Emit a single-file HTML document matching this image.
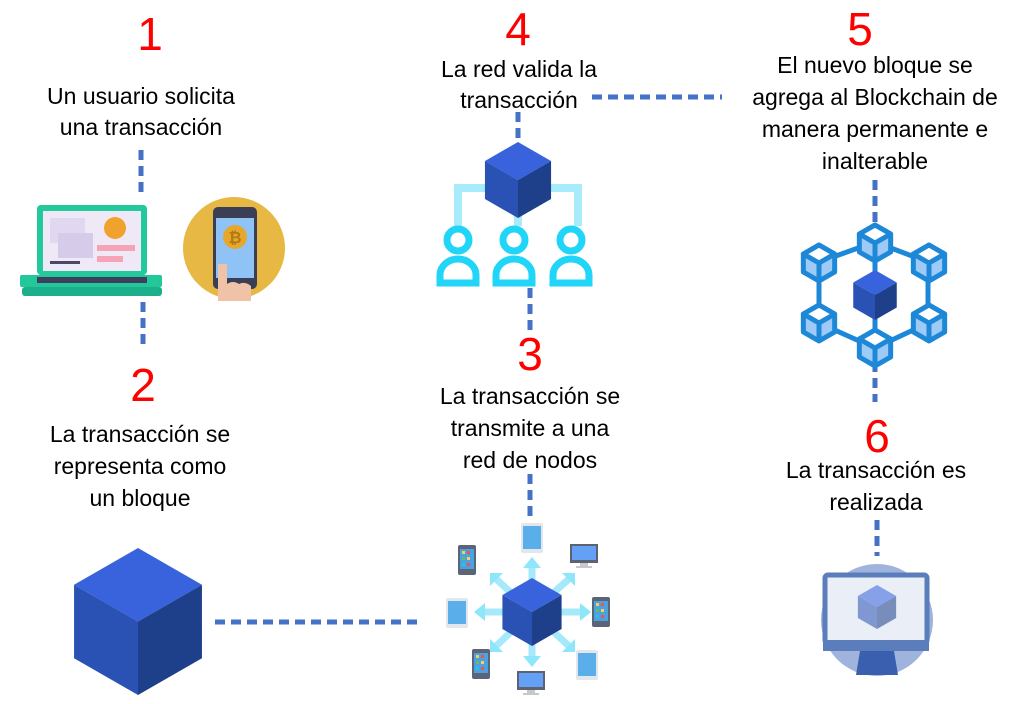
<!DOCTYPE html>
<html><head><meta charset="utf-8"><style>
html,body{margin:0;padding:0;background:#fff}
svg{display:block}
.t{font-family:"Liberation Sans",sans-serif;font-size:23px;fill:#000;text-anchor:middle}
.n{font-family:"Liberation Sans",sans-serif;font-size:46px;fill:#f00;text-anchor:middle}
.d{stroke:#4472c4;stroke-width:5;stroke-dasharray:10 6;fill:none}
</style></head><body>
<svg width="1026" height="704" viewBox="0 0 1026 704" xmlns="http://www.w3.org/2000/svg">
<defs>
<g id="cube">
<polygon points="0,-1 0.87,-0.5 0,0 -0.87,-0.5" fill="#3863dc"/>
<polygon points="-0.87,-0.5 0,0 0,1 -0.87,0.5" fill="#2a52b4"/>
<polygon points="0.87,-0.5 0,0 0,1 0.87,0.5" fill="#1e3f8a"/>
</g>
<g id="ocube">
<polygon points="0,-1 0.87,-0.5 0.87,0.5 0,1 -0.87,0.5 -0.87,-0.5" fill="#9dcaf7" stroke="#1e88d8" stroke-width="5" vector-effect="non-scaling-stroke" stroke-linejoin="round"/>
<polygon points="0,-1 0.87,-0.5 0,0 -0.87,-0.5" fill="#fff" stroke="#1e88d8" stroke-width="5" vector-effect="non-scaling-stroke" stroke-linejoin="round"/>
<line x1="0" y1="0" x2="0" y2="1" stroke="#1e88d8" stroke-width="5" vector-effect="non-scaling-stroke"/>
</g>
<g id="phone">
<rect x="-9" y="-15" width="18" height="30" rx="2" fill="#5c6478"/>
<rect x="-7" y="-11" width="14" height="20" fill="#4aa3e0"/>
<rect x="-5" y="-9" width="3" height="3" fill="#f5d547"/><rect x="0" y="-9" width="3" height="3" fill="#ef5350"/>
<rect x="-5" y="-3" width="3" height="3" fill="#66bb6a"/><rect x="0" y="-3" width="3" height="3" fill="#f5d547"/>
<rect x="-5" y="3" width="3" height="3" fill="#26c6da"/><rect x="0" y="3" width="3" height="3" fill="#ef5350"/>
</g>
<g id="tab">
<rect x="-11" y="-15" width="22" height="30" rx="2" fill="#e3e6ea"/>
<rect x="-9" y="-12" width="18" height="23" fill="#5aaeea"/>
</g>
<g id="mon">
<rect x="-14" y="-11" width="28" height="19" fill="#5d6270"/>
<rect x="-12" y="-9" width="24" height="14" fill="#64a0f5"/>
<rect x="-4" y="8" width="8" height="4" fill="#c8c8c8"/><rect x="-8" y="11" width="16" height="2" fill="#c8c8c8"/>
</g>
</defs>

<text class="n" x="150" y="50">1</text>
<text class="n" x="143" y="401">2</text>
<text class="n" x="530" y="370">3</text>
<text class="n" x="518" y="45">4</text>
<text class="n" x="860" y="45">5</text>
<text class="n" x="877" y="452">6</text>

<text class="t" x="141" y="104">Un usuario solicita</text>
<text class="t" x="141" y="135">una transacción</text>
<text class="t" x="140" y="442">La transacción se</text>
<text class="t" x="140" y="474">representa como</text>
<text class="t" x="140" y="506">un bloque</text>
<text class="t" x="530" y="404">La transacción se</text>
<text class="t" x="530" y="436">transmite a una</text>
<text class="t" x="530" y="468">red de nodos</text>
<text class="t" x="519" y="77">La red valida la</text>
<text class="t" x="519" y="108">transacción</text>
<text class="t" x="875" y="73">El nuevo bloque se</text>
<text class="t" x="875" y="105">agrega al Blockchain de</text>
<text class="t" x="875" y="137">manera permanente e</text>
<text class="t" x="875" y="169">inalterable</text>
<text class="t" x="876" y="478">La transacción es</text>
<text class="t" x="876" y="510">realizada</text>

<line class="d" x1="141" y1="150" x2="141" y2="192"/>
<line class="d" x1="143" y1="302" x2="143" y2="346"/>
<line class="d" x1="215" y1="622" x2="420" y2="622"/>
<line class="d" x1="530" y1="474" x2="530" y2="516"/>
<line class="d" x1="530" y1="288" x2="530" y2="332"/>
<line class="d" x1="518" y1="112" x2="518" y2="150"/>
<line class="d" x1="592" y1="97" x2="722" y2="97"/>
<line class="d" x1="875" y1="180" x2="875" y2="228"/>
<line class="d" x1="875" y1="362" x2="875" y2="402"/>
<line class="d" x1="877" y1="520" x2="877" y2="556"/>

<rect x="37" y="205" width="110" height="70" rx="4" fill="#23c99b"/>
<rect x="43" y="211" width="98" height="60" fill="#efe9f7"/>
<rect x="50" y="218" width="35" height="25" fill="#e1d7f0"/>
<rect x="58" y="233" width="35" height="25" fill="#d6cbe8"/>
<circle cx="115" cy="228" r="11" fill="#f0a32c"/>
<rect x="97" y="245" width="38" height="6" fill="#f7a3b6"/>
<rect x="97" y="256" width="26" height="6" fill="#f7a3b6"/>
<rect x="50" y="261" width="30" height="3" fill="#4a4a66"/>
<rect x="20" y="275" width="142" height="12" rx="2" fill="#22c79a"/>
<rect x="37" y="277" width="110" height="6" fill="#3e3e5e"/>
<rect x="22" y="287" width="140" height="9" rx="3" fill="#1bb08b"/>

<circle cx="234" cy="248" r="51" fill="#e8b845"/>
<rect x="213" y="207" width="44" height="82" rx="5" fill="#3b3f55"/>
<rect x="216" y="218" width="38" height="60" fill="#8fc2f5"/>
<circle cx="235" cy="237" r="12" fill="#e5a82d"/>
<text x="235" y="243" font-family="Liberation Sans,sans-serif" font-size="16" font-weight="bold" fill="#b07a10" text-anchor="middle">₿</text>
<path d="M218,264 h9 v20 q6,-4 12,0 q6,-3 12,2 v15 h-33z" fill="#f0c2a8"/>

<use href="#cube" transform="translate(138,621.5) scale(73.5)"/>

<path d="M458,226 V188 H578 V226 M518,188 V226" fill="none" stroke="#a8ecfb" stroke-width="8"/>
<use href="#cube" transform="translate(518,180) scale(38)"/>
<g fill="none" stroke="#20d5f8" stroke-width="7">
<circle cx="458" cy="240" r="11"/><circle cx="514" cy="240" r="11"/><circle cx="571" cy="240" r="11"/>
<path d="M440,283 v-8 a18,16 0 0 1 36,0 v8 z"/>
<path d="M496,283 v-8 a18,16 0 0 1 36,0 v8 z"/>
<path d="M553,283 v-8 a18,16 0 0 1 36,0 v8 z"/>
</g>

<g stroke="#a6e9fb" stroke-width="7" fill="none" stroke-linecap="round">
<line x1="532" y1="612" x2="532" y2="565"/><line x1="532" y1="612" x2="532" y2="660"/>
<line x1="532" y1="612" x2="480" y2="612"/><line x1="532" y1="612" x2="585" y2="612"/>
<line x1="532" y1="612" x2="495" y2="578"/><line x1="532" y1="612" x2="570" y2="578"/>
<line x1="532" y1="612" x2="495" y2="647"/><line x1="532" y1="612" x2="570" y2="647"/>
</g>
<g fill="#8ee6fb">
<polygon points="532,557 523,568 541,568"/><polygon points="532,667 523,656 541,656"/>
<polygon points="474,612 485,603 485,621"/><polygon points="591,612 580,603 580,621"/>
<polygon points="490,573 490,586 503,573"/><polygon points="575,573 562,573 575,586"/>
<polygon points="490,652 490,639 503,652"/><polygon points="575,652 562,652 575,639"/>
</g>
<use href="#cube" transform="translate(532,612) scale(34)"/>
<use href="#tab" transform="translate(532,538)"/>
<use href="#mon" transform="translate(584,555)"/>
<use href="#phone" transform="translate(467,560)"/>
<use href="#tab" transform="translate(457,613)"/>
<use href="#phone" transform="translate(601,612)"/>
<use href="#phone" transform="translate(481,664)"/>
<use href="#tab" transform="translate(587,665)"/>
<use href="#mon" transform="translate(531,682)"/>

<g stroke="#1e88d8" stroke-width="5" fill="none">
<polyline points="875,242 928,262 928,323 875,348 819,323 819,262 875,242"/>
<line x1="875" y1="242" x2="875" y2="348"/>
</g>
<use href="#ocube" transform="translate(875,243) scale(18)"/>
<use href="#ocube" transform="translate(819,263) scale(18)"/>
<use href="#ocube" transform="translate(929,263) scale(18)"/>
<use href="#ocube" transform="translate(819,323) scale(18)"/>
<use href="#ocube" transform="translate(929,323) scale(18)"/>
<use href="#ocube" transform="translate(875,348) scale(18)"/>
<use href="#cube" transform="translate(875,295) scale(25)"/>

<circle cx="877" cy="620" r="56" fill="#9fb3dc"/>
<rect x="825" y="575" width="102" height="68" rx="3" fill="#e9eef7" stroke="#5b7dbb" stroke-width="5"/>
<rect x="823" y="640" width="106" height="11" fill="#5b7dbb"/>
<polygon points="860,651 894,651 898,675 856,675" fill="#3a5fae"/>
<use href="#cube" transform="translate(877,607) scale(22)" opacity="0.55"/>
</svg>
</body></html>
